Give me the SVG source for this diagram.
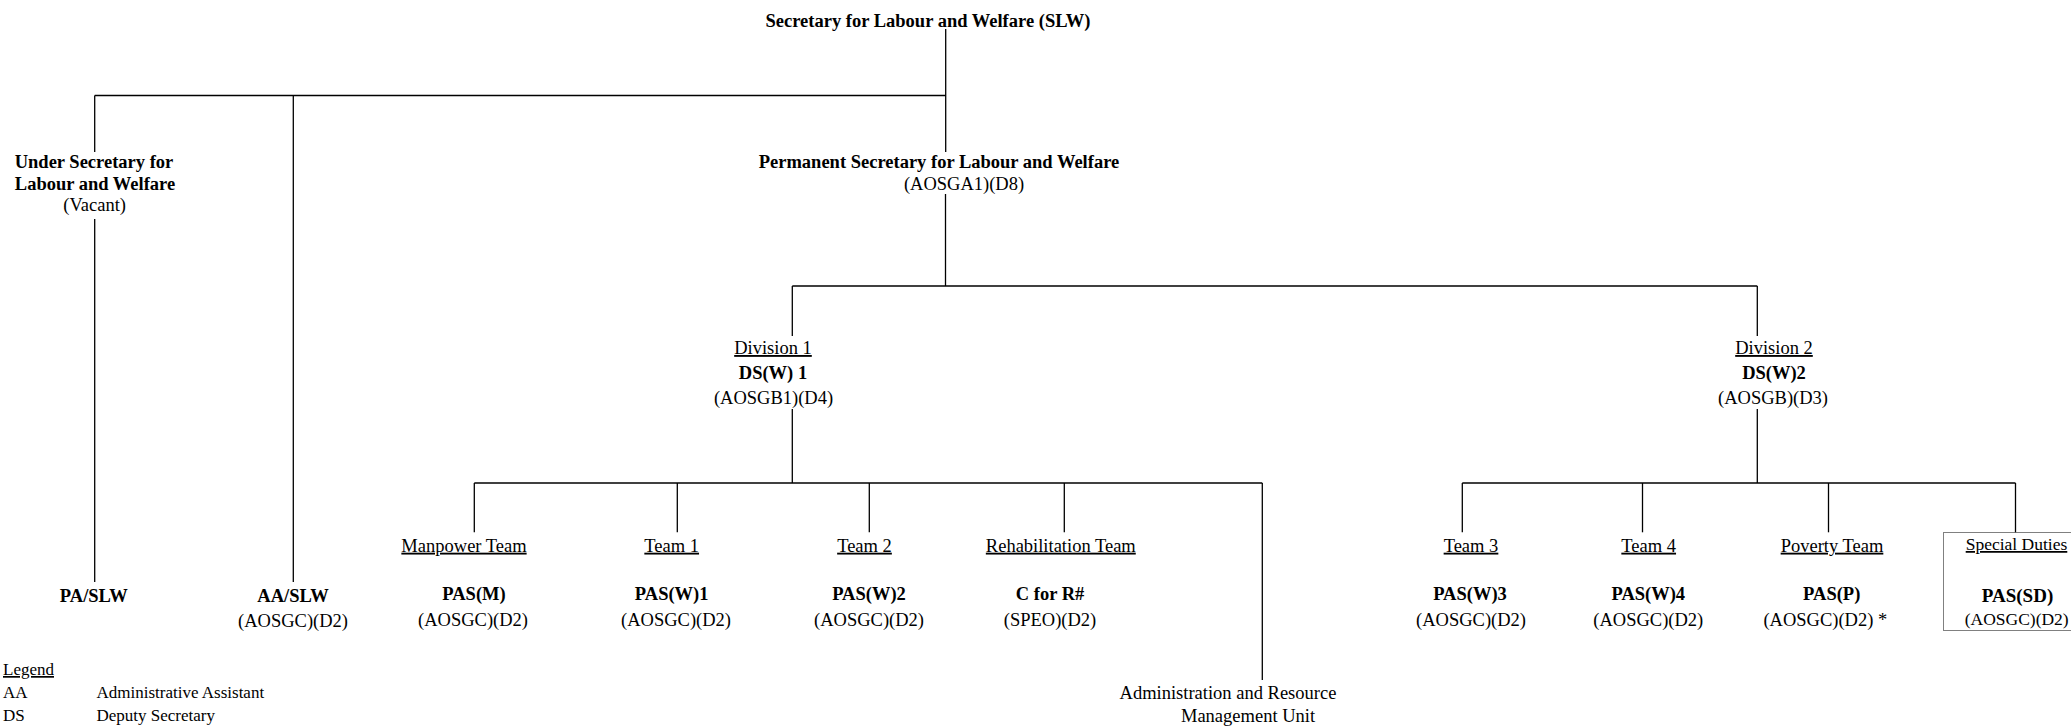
<svg xmlns="http://www.w3.org/2000/svg" width="2071" height="726" viewBox="0 0 2071 726">
<style>
text{font-family:"Liberation Serif","Times New Roman",serif;font-size:18.5px;fill:#000;text-anchor:middle}
.b{font-weight:bold}
.u{text-decoration:underline}
.l{text-anchor:start;font-size:17px}
.sd{font-size:17.5px}
.sdb{font-size:19px}
#connectors line{stroke:#000;stroke-width:1.3;fill:none}
.dot{fill:none;stroke:#000;stroke-width:1;stroke-dasharray:1 1}
</style>
<rect width="2071" height="726" fill="#fff"/>
<g id="connectors">
<line x1="945.7" y1="29" x2="945.7" y2="152"/>
<line x1="94.7" y1="95.5" x2="945.7" y2="95.5"/>
<line x1="94.7" y1="95.5" x2="94.7" y2="152"/>
<line x1="94.7" y1="219" x2="94.7" y2="582"/>
<line x1="293.3" y1="95.5" x2="293.3" y2="582"/>
<line x1="945.5" y1="194" x2="945.5" y2="286"/>
<line x1="792.3" y1="286" x2="1757.3" y2="286"/>
<line x1="792.3" y1="286" x2="792.3" y2="336"/>
<line x1="1757.3" y1="286" x2="1757.3" y2="336"/>
<line x1="792.3" y1="409" x2="792.3" y2="483"/>
<line x1="474.3" y1="483" x2="1262.3" y2="483"/>
<line x1="474.3" y1="483" x2="474.3" y2="532.3"/>
<line x1="677.3" y1="483" x2="677.3" y2="532.3"/>
<line x1="869.3" y1="483" x2="869.3" y2="532.3"/>
<line x1="1064.3" y1="483" x2="1064.3" y2="532.3"/>
<line x1="1262.3" y1="483" x2="1262.3" y2="680"/>
<line x1="1757.3" y1="409" x2="1757.3" y2="483"/>
<line x1="1462.3" y1="483" x2="2015.5" y2="483"/>
<line x1="1462.3" y1="483" x2="1462.3" y2="532.3"/>
<line x1="1642.5" y1="483" x2="1642.5" y2="532.3"/>
<line x1="1828.5" y1="483" x2="1828.5" y2="532.3"/>
<line x1="2015.5" y1="483" x2="2015.5" y2="532.3"/>
</g>
<g id="slw"><text class="b" x="928" y="26.7">Secretary for Labour and Welfare (SLW)</text></g>
<g id="under-secretary">
<text class="b" x="94" y="168.3">Under Secretary for</text>
<text class="b" x="95" y="190">Labour and Welfare</text>
<text x="94.7" y="211">(Vacant)</text>
</g>
<g id="permanent-secretary">
<text class="b" x="939" y="167.7">Permanent Secretary for Labour and Welfare</text>
<text x="964" y="190">(AOSGA1)(D8)</text>
</g>
<g id="division1">
<text class="u" x="773" y="354">Division 1</text>
<text class="b" x="773" y="379">DS(W) 1</text>
<text x="773.5" y="404">(AOSGB1)(D4)</text>
</g>
<g id="division2">
<text class="u" x="1774" y="354">Division 2</text>
<text class="b" x="1774" y="379">DS(W)2</text>
<text x="1773" y="404">(AOSGB)(D3)</text>
</g>
<g id="pa-slw"><text class="b" x="93.8" y="601.7">PA/SLW</text></g>
<g id="aa-slw">
<text class="b" x="293" y="601.7">AA/SLW</text>
<text x="293" y="626.7">(AOSGC)(D2)</text>
</g>
<g id="manpower">
<text class="u" x="464" y="551.7">Manpower Team</text>
<text class="b" x="474" y="600">PAS(M)</text>
<text x="473" y="625.5">(AOSGC)(D2)</text>
</g>
<g id="team1">
<text class="u" x="671.7" y="551.7">Team 1</text>
<text class="b" x="671.7" y="600">PAS(W)1</text>
<text x="676" y="625.5">(AOSGC)(D2)</text>
</g>
<g id="team2">
<text class="u" x="864.5" y="551.7">Team 2</text>
<text class="b" x="869" y="600">PAS(W)2</text>
<text x="869" y="625.5">(AOSGC)(D2)</text>
</g>
<g id="rehab">
<text class="u" x="1060.8" y="551.7">Rehabilitation Team</text>
<text class="b" x="1050" y="600">C for R#</text>
<text x="1050" y="625.5">(SPEO)(D2)</text>
</g>
<g id="admin-unit">
<text x="1228" y="698.5">Administration and Resource</text>
<text x="1248" y="722">Management Unit</text>
</g>
<g id="team3">
<text class="u" x="1471" y="551.7">Team 3</text>
<text class="b" x="1470" y="600">PAS(W)3</text>
<text x="1471" y="625.7">(AOSGC)(D2)</text>
</g>
<g id="team4">
<text class="u" x="1648.7" y="551.7">Team 4</text>
<text class="b" x="1648.3" y="600">PAS(W)4</text>
<text x="1648.3" y="625.7">(AOSGC)(D2)</text>
</g>
<g id="poverty">
<text class="u" x="1832" y="551.7">Poverty Team</text>
<text class="b" x="1831.7" y="600">PAS(P)</text>
<text x="1825.3" y="625.7">(AOSGC)(D2) *</text>
</g>
<g id="special-duties">
<rect class="dot" x="1943.5" y="532.5" width="140" height="98"/>
<text class="u sd" x="2016.5" y="550">Special Duties</text>
<text class="b sdb" x="2017.5" y="601.5">PAS(SD)</text>
<text class="sd" x="2016.7" y="625.3">(AOSGC)(D2)</text>
</g>
<g id="legend">
<text class="l u" x="3" y="675">Legend</text>
<text class="l" x="3" y="697.5">AA</text>
<text class="l" x="96.5" y="697.5">Administrative Assistant</text>
<text class="l" x="3" y="721">DS</text>
<text class="l" x="96.5" y="721">Deputy Secretary</text>
</g>
</svg>
